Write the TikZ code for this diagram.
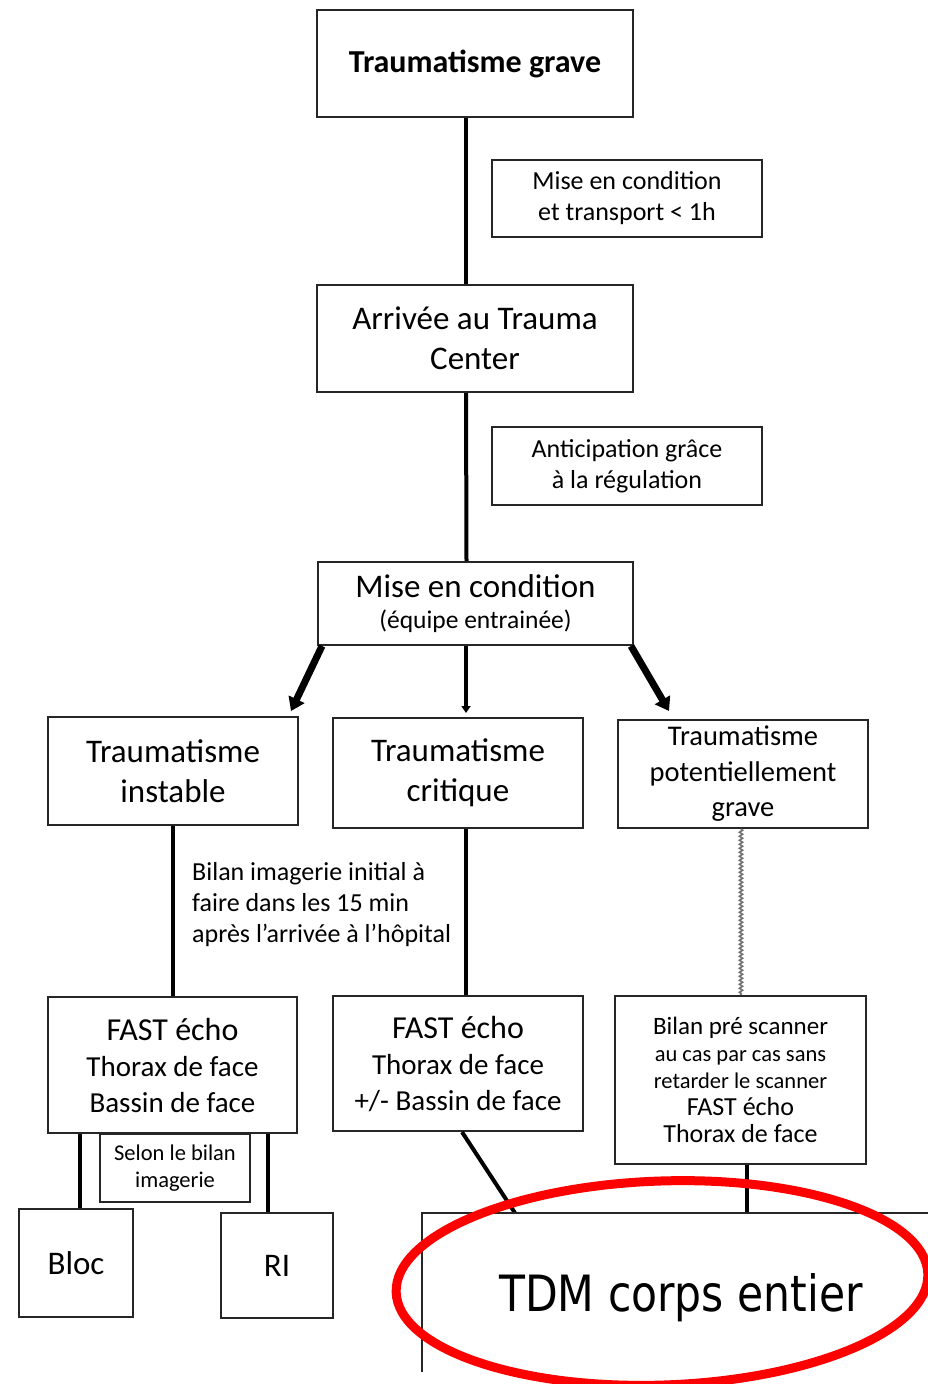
\documentclass[tikz,border=0pt]{standalone}
\usepackage{fontspec}
\setmainfont{Carlito}
\newfontfamily\tdmfont[FakeStretch=0.85]{DejaVu Sans}
\usetikzlibrary{arrows.meta,decorations.pathmorphing}
\newcommand\fs[2]{\fontsize{#1}{#2}\selectfont}
\begin{document}
\begin{tikzpicture}[x=1pt,y=-1pt,
  box/.style={draw=black!85, line width=2pt, fill=white, align=center, inner sep=0pt, text=black},
  conn/.style={line width=4pt, black},
  bigarrow/.style={line width=7pt, black, -{Triangle[length=13pt,width=17pt]}},
  smallarrow/.style={line width=4pt, black, -{Triangle[length=7pt,width=9pt]}, shorten >=4pt},
  dotline/.style={draw=black!55, line width=1.6pt, decorate, decoration={snake, amplitude=1.6pt, segment length=4pt}},
  outline/.style={draw=black!85, line width=2pt}]
\useasboundingbox (0,0) rectangle (928,1384);
\fill[white] (0,0) rectangle (928,1384);

% nodes
\node[box, minimum width=316, minimum height=107, font=\fs{32}{38}\bfseries] (b1) at (475,63.5) {Traumatisme grave};
\node[box, minimum width=270, minimum height=77, font=\fs{26}{31}] (n1) at (627,198.5) {Mise en condition\\et transport < 1h};
\node[box, minimum width=316, minimum height=107, font=\fs{33}{40}] (b2) at (475,338.5) {Arrivée au Trauma\\Center};
\node[box, minimum width=270, minimum height=78, font=\fs{26}{31}] (n2) at (627,466) {Anticipation grâce\\à la régulation};
\node[box, minimum width=315, minimum height=83, font=\fs{25.5}{31}] (b3) at (475.5,603.5) {\fs{33}{31}Mise en condition\\(équipe entrainée)};

\node[box, minimum width=250, minimum height=108, font=\fs{33}{40}] (c1) at (173,771) {Traumatisme\\instable};
\node[box, minimum width=250, minimum height=110, font=\fs{33}{40}] (c2) at (458,773) {Traumatisme\\critique};
\node[box, minimum width=250, minimum height=108, font=\fs{28.5}{35.5}] (c3) at (743,774) {Traumatisme\\potentiellement\\grave};

\node[anchor=north west, align=left, inner sep=0pt, text=black, font=\fs{26}{31}] (bil) at (192,862) {Bilan imagerie initial à\\faire dans les 15 min\\après l’arrivée à l’hôpital};

\node[box, minimum width=249, minimum height=136, font=\fs{29}{36}] (f1) at (172.5,1065) {\fs{32}{37}FAST écho\\Thorax de face\\Bassin de face};
\node[box, minimum width=250, minimum height=135, font=\fs{29}{36}] (f2) at (458,1063.5) {\fs{32}{37}FAST écho\\Thorax de face\\+/- Bassin de face};
\node[box, minimum width=251, minimum height=168, font=\fs{22.5}{27}] (f3) at (740.5,1080) {\fs{25}{30}Bilan pré scanner\\au cas par cas sans\\retarder le scanner\\\fs{26}{32}FAST écho\\\fs{26}{32}Thorax de face};

\node[box, minimum width=150, minimum height=68, font=\fs{22.5}{27}] (sel) at (175,1168) {Selon le bilan\\imagerie};
\node[box, minimum width=114, minimum height=108, font=\fs{33}{40}] (bloc) at (76,1263) {Bloc};
\node[box, minimum width=112, minimum height=105, font=\fs{33}{40}] (ri) at (277,1265.5) {RI};

\node[anchor=base, inner sep=0pt, font=\tdmfont\fs{50}{50}] (tdm) at (681,1311) {TDM corps entier};
\coordinate (tdmTL) at (422,1213);
\coordinate (tdmBL) at (422,1372);
\coordinate (tdmTR) at (940,1213);
\coordinate (tdmA) at (515,1213);
\coordinate (tdmB) at (747,1213);

% connectors
\draw[conn] ([xshift=-9]b1.south) -- ([xshift=-9]b2.north);
\draw[conn] ([xshift=-9]b2.south) -- ([xshift=-9]b3.north);
\draw[bigarrow] ([xshift=5]b3.south west) -- ([xshift=-8,yshift=5]c1.north east);
\coordinate (m3) at ([xshift=-9.5]b3.south);
\draw[smallarrow] (m3) -- (m3 |- c2.north);
\draw[bigarrow] ([xshift=-3]b3.south east) -- ([xshift=52,yshift=8]c3.north west);

\draw[conn] (c1.south) -- (c1.south |- f1.north);
\coordinate (m4) at ([xshift=8]c2.south);
\draw[conn] (m4) -- (m4 |- f2.north);
\coordinate (m5) at ([xshift=-2]c3.south);
\draw[dotline] (m5) -- (m5 |- f3.north);

\coordinate (k1) at ([xshift=4]bloc.north);
\draw[conn] (k1 |- f1.south) -- (k1);
\coordinate (k2) at ([xshift=-9]ri.north);
\draw[conn] (k2 |- f1.south) -- (k2);

\draw[conn] ([xshift=4]f2.south) -- (tdmA);
\draw[conn] (tdmB |- f3.south) -- (tdmB);
\draw[outline] (tdmTR) -- (tdmTL) -- (tdmBL);

% red ellipse
\draw[red, line width=9pt, rotate around={2:(662,1283)}] (662,1283) ellipse [x radius=266, y radius=102];
\end{tikzpicture}
\end{document}
